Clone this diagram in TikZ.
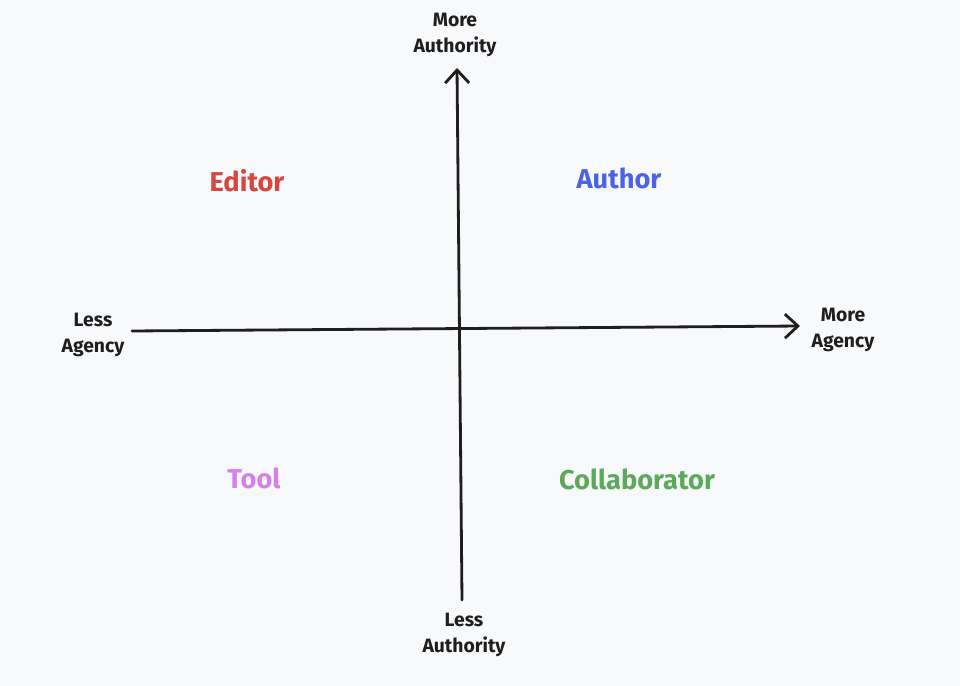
\documentclass[tikz,border=0pt]{standalone}
\usepackage{fontspec}
\setmainfont{Fira Sans}
\usetikzlibrary{arrows.meta}
\definecolor{bgpaper}{HTML}{F8F9FB}
\definecolor{inkdark}{HTML}{1E1E1E}
\definecolor{editorred}{HTML}{D6473C}
\definecolor{authorblue}{HTML}{4B63E6}
\definecolor{toolpink}{HTML}{D77FEA}
\definecolor{collabgreen}{HTML}{5BAA5C}

\begin{document}
\begin{tikzpicture}[x=0.02cm, y=-0.02cm, every node/.style={font=\small}, axislabel/.style={align=center, text=inkdark, font=\fontsize{11}{14.8}\selectfont\bfseries, inner sep=0pt}, quadlabel/.style={font=\fontsize{15.5}{17}\selectfont\bfseries, inner sep=0pt}, axis/.style={-{Straight Barb[length=2.6mm, width=4.8mm]}, line width=1.6pt, line cap=round, draw=inkdark}]
\fill[bgpaper] (0,0) rectangle (960,686);
\useasboundingbox (0,0) rectangle (960,686);
% axis ends
\coordinate (agencylow) at (132,331);
\coordinate (agencyhigh) at (800,326);
\coordinate (authoritylow) at (462,600);
\coordinate (authorityhigh) at (457,68);
% axis labels
\node[axislabel] (moreauth) at (455,35) {More\\Authority};
\node[axislabel] (lessauth) at (464,635) {Less\\Authority};
\node[axislabel] (lessagency) at (93,335) {Less\\Agency};
\node[axislabel] (moreagency) at (843,330) {More\\Agency};
% quadrants
\node[quadlabel, text=editorred] (editor) at (247,181) {Editor};
\node[quadlabel, text=authorblue] (author) at (619,178) {Author};
\node[quadlabel, text=toolpink] (tool) at (254,478) {Tool};
\node[quadlabel, text=collabgreen] (collab) at (637,479) {Collaborator};
\draw[axis] (agencylow) -- (agencyhigh);
\draw[axis] (authoritylow) -- (authorityhigh);
\end{tikzpicture}
\end{document}
